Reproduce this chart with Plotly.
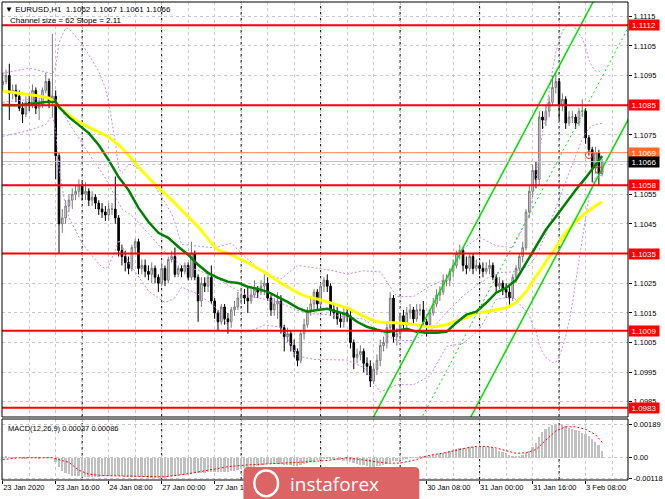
import plotly.graph_objects as go

# ---------------- data ----------------
bar_index = list(range(182))

opens = [1.1092,1.1093,1.1095,1.1089,1.1090,1.1088,1.1084,1.1082,1.1086,1.1085,
         1.1090,1.1084,1.1085,1.1090,1.1093,1.1086,1.1088,1.1068,1.1045,1.1047,
         1.1051,1.1053,1.1055,1.1056,1.1058,1.1055,1.1056,1.1053,1.1054,1.1052,
         1.1050,1.1049,1.1048,1.1050,1.1050,1.1047,1.1036,1.1034,1.1032,1.1030,
         1.1037,1.1039,1.1030,1.1031,1.1029,1.1028,1.1030,1.1027,1.1025,1.1030,
         1.1026,1.1033,1.1034,1.1028,1.1030,1.1029,1.1031,1.1027,1.1035,1.1027,
         1.1019,1.1025,1.1024,1.1027,1.1019,1.1015,1.1012,1.1017,1.1013,1.1012,
         1.1016,1.1017,1.1020,1.1021,1.1020,1.1019,1.1021,1.1023,1.1022,1.1024,
         1.1025,1.1020,1.1016,1.1018,1.1019,1.1010,1.1007,1.1008,1.1004,1.1002,
         1.0999,1.1008,1.1011,1.1016,1.1018,1.1022,1.1018,1.1024,1.1026,1.1024,
         1.1016,1.1015,1.1013,1.1012,1.1015,1.1014,1.1005,1.1000,1.1001,1.1002,
         1.0998,1.0997,1.0992,1.0996,1.0999,1.1004,1.1005,1.1010,1.1020,1.1007,
         1.1008,1.1014,1.1011,1.1015,1.1016,1.1013,1.1016,1.1016,1.1012,1.1011,
         1.1015,1.1018,1.1021,1.1022,1.1026,1.1026,1.1029,1.1031,1.1035,1.1036,
         1.1031,1.1030,1.1034,1.1030,1.1031,1.1030,1.1029,1.1030,1.1031,1.1027,
         1.1024,1.1025,1.1023,1.1022,1.1020,1.1027,1.1030,1.1034,1.1037,1.1049,
         1.1056,1.1063,1.1060,1.1081,1.1080,1.1083,1.1086,1.1091,1.1093,1.1085,
         1.1087,1.1079,1.1081,1.1081,1.1079,1.1083,1.1083,1.1074,1.1070,1.1064,
         1.1069,1.1062]

highs = [1.1096,1.1097,1.1099,1.1092,1.1092,1.1090,1.1086,1.1088,1.1089,1.1092,
         1.1091,1.1087,1.1091,1.1096,1.1094,1.1109,1.1090,1.1069,1.1050,1.1053,
         1.1055,1.1057,1.1058,1.1060,1.1059,1.1059,1.1057,1.1056,1.1055,1.1053,
         1.1052,1.1051,1.1052,1.1052,1.1061,1.1048,1.1038,1.1036,1.1034,1.1038,
         1.1040,1.1040,1.1033,1.1033,1.1031,1.1032,1.1031,1.1028,1.1032,1.1031,
         1.1034,1.1036,1.1037,1.1031,1.1031,1.1032,1.1032,1.1039,1.1036,1.1028,
         1.1027,1.1027,1.1029,1.1031,1.1020,1.1016,1.1018,1.1018,1.1015,1.1017,
         1.1019,1.1022,1.1023,1.1023,1.1024,1.1023,1.1026,1.1024,1.1026,1.1028,
         1.1027,1.1021,1.1020,1.1022,1.1021,1.1011,1.1010,1.1009,1.1006,1.1003,
         1.1009,1.1013,1.1017,1.1020,1.1023,1.1023,1.1025,1.1027,1.1028,1.1025,
         1.1018,1.1017,1.1015,1.1017,1.1017,1.1016,1.1006,1.1003,1.1004,1.1003,
         1.1000,1.0999,1.0998,1.1001,1.1006,1.1007,1.1012,1.1022,1.1021,1.1010,
         1.1015,1.1016,1.1017,1.1018,1.1017,1.1018,1.1018,1.1019,1.1013,1.1016,
         1.1020,1.1023,1.1024,1.1028,1.1028,1.1030,1.1033,1.1036,1.1038,1.1037,
         1.1034,1.1035,1.1035,1.1033,1.1032,1.1032,1.1032,1.1033,1.1032,1.1028,
         1.1027,1.1026,1.1025,1.1024,1.1028,1.1031,1.1035,1.1039,1.1050,1.1058,
         1.1065,1.1066,1.1083,1.1083,1.1085,1.1088,1.1095,1.1096,1.1094,1.1089,
         1.1088,1.1083,1.1083,1.1082,1.1084,1.1087,1.1084,1.1075,1.1071,1.1071,
         1.1070,1.1067]

lows = [1.1090,1.1092,1.1080,1.1087,1.1086,1.1083,1.1079,1.1081,1.1083,1.1084,
        1.1082,1.1080,1.1084,1.1089,1.1084,1.1081,1.1060,1.1035,1.1042,1.1045,
        1.1049,1.1050,1.1053,1.1054,1.1053,1.1053,1.1051,1.1051,1.1050,1.1048,
        1.1047,1.1046,1.1046,1.1048,1.1045,1.1034,1.1031,1.1029,1.1028,1.1029,
        1.1035,1.1028,1.1028,1.1027,1.1026,1.1025,1.1025,1.1022,1.1024,1.1024,
        1.1025,1.1032,1.1027,1.1027,1.1027,1.1028,1.1026,1.1026,1.1026,1.1012,
        1.1017,1.1022,1.1022,1.1018,1.1013,1.1009,1.1011,1.1011,1.1008,1.1010,
        1.1014,1.1016,1.1018,1.1018,1.1015,1.1018,1.1020,1.1020,1.1021,1.1021,
        1.1019,1.1014,1.1014,1.1013,1.1008,1.1002,1.1005,1.1002,1.1000,1.0997,
        1.0998,1.1006,1.1010,1.1014,1.1016,1.1016,1.1017,1.1022,1.1022,1.1014,
        1.1013,1.1011,1.1010,1.1010,1.1012,1.1003,1.0996,1.0998,1.0999,1.0995,
        1.0994,1.0990,1.0991,1.0994,1.0997,1.1002,1.1003,1.1009,1.1005,1.1004,
        1.1006,1.1009,1.1010,1.1013,1.1011,1.1012,1.1014,1.1011,1.1007,1.1010,
        1.1014,1.1017,1.1019,1.1021,1.1024,1.1024,1.1027,1.1030,1.1033,1.1029,
        1.1028,1.1029,1.1028,1.1029,1.1028,1.1027,1.1028,1.1028,1.1026,1.1022,
        1.1023,1.1021,1.1020,1.1017,1.1019,1.1025,1.1029,1.1032,1.1036,1.1047,
        1.1054,1.1057,1.1058,1.1077,1.1078,1.1081,1.1085,1.1089,1.1080,1.1083,
        1.1077,1.1078,1.1079,1.1077,1.1078,1.1081,1.1072,1.1068,1.1059,1.1062,
        1.1058,1.1061]

closes = [1.1093,1.1095,1.1089,1.1090,1.1088,1.1084,1.1082,1.1086,1.1085,1.1090,
          1.1084,1.1085,1.1090,1.1093,1.1086,1.1088,1.1068,1.1045,1.1047,1.1051,
          1.1053,1.1055,1.1056,1.1058,1.1055,1.1056,1.1053,1.1054,1.1052,1.1050,
          1.1049,1.1048,1.1050,1.1050,1.1047,1.1036,1.1034,1.1032,1.1030,1.1037,
          1.1039,1.1030,1.1031,1.1029,1.1028,1.1030,1.1027,1.1025,1.1030,1.1026,
          1.1033,1.1034,1.1028,1.1030,1.1029,1.1031,1.1027,1.1035,1.1027,1.1019,
          1.1025,1.1024,1.1027,1.1019,1.1015,1.1012,1.1017,1.1013,1.1012,1.1016,
          1.1017,1.1020,1.1021,1.1020,1.1019,1.1021,1.1023,1.1022,1.1024,1.1025,
          1.1020,1.1016,1.1018,1.1019,1.1010,1.1007,1.1008,1.1004,1.1002,1.0999,
          1.1008,1.1011,1.1016,1.1018,1.1022,1.1018,1.1024,1.1026,1.1024,1.1016,
          1.1015,1.1013,1.1012,1.1015,1.1014,1.1005,1.1000,1.1001,1.1002,1.0998,
          1.0997,1.0992,1.0996,1.0999,1.1004,1.1005,1.1010,1.1020,1.1007,1.1008,
          1.1014,1.1011,1.1015,1.1016,1.1013,1.1016,1.1016,1.1012,1.1011,1.1015,
          1.1018,1.1021,1.1022,1.1026,1.1026,1.1029,1.1031,1.1035,1.1036,1.1031,
          1.1030,1.1034,1.1030,1.1031,1.1030,1.1029,1.1030,1.1031,1.1027,1.1024,
          1.1025,1.1023,1.1022,1.1020,1.1027,1.1030,1.1034,1.1037,1.1049,1.1056,
          1.1063,1.1060,1.1081,1.1080,1.1083,1.1086,1.1091,1.1093,1.1085,1.1087,
          1.1079,1.1081,1.1081,1.1079,1.1083,1.1083,1.1074,1.1070,1.1064,1.1069,
          1.1062,1.1066]

ma_green_bars = [0,5,13,16,17,20,23,26,29,32,35,38,41,44,47,50,53,56,59,62,65,68,71,74,77,80,
                 83,86,89,92,95,98,101,104,107,110,113,116,119,122,125,128,131,134,137,140,
                 143,146,149,152,155,158,161,164,167,170,173,176,179,181]
ma_green = [1.10851,1.10850,1.10861,1.10861,1.10844,1.10810,1.10783,1.10756,1.10716,1.10665,
            1.10608,1.10564,1.10504,1.10457,1.10420,1.10403,1.10373,1.10346,1.10312,1.10285,
            1.10268,1.10255,1.10251,1.10238,1.10231,1.10221,1.10204,1.10187,1.10167,1.10154,
            1.10160,1.10164,1.10154,1.10144,1.10120,1.10103,1.10093,1.10086,1.10090,1.10096,
            1.10086,1.10083,1.10083,1.10086,1.10117,1.10144,1.10154,1.10184,1.10218,1.10234,
            1.10261,1.10319,1.10373,1.10430,1.10474,1.10521,1.10564,1.10605,1.10649,1.10679]

ma_yellow_bars = [0,5,11,14,17,20,23,26,29,32,35,38,41,44,47,51,54,59,63,65,69,74,79,84,89,92,
                  95,98,101,104,107,110,113,116,119,122,125,128,131,134,137,140,143,146,149,
                  152,155,158,161,164,167,170,173,176,179,181]
ma_yellow = [1.10898,1.10891,1.10881,1.10874,1.10844,1.10817,1.10793,1.10777,1.10760,1.10743,
             1.10716,1.10682,1.10642,1.10608,1.10571,1.10531,1.10497,1.10440,1.10386,1.10362,
             1.10346,1.10319,1.10288,1.10251,1.10218,1.10204,1.10197,1.10187,1.10177,1.10167,
             1.10150,1.10133,1.10120,1.10117,1.10117,1.10113,1.10110,1.10103,1.10103,1.10110,
             1.10123,1.10133,1.10150,1.10154,1.10160,1.10167,1.10184,1.10221,1.10272,1.10322,
             1.10373,1.10420,1.10457,1.10487,1.10511,1.10524]

# Bollinger bands (violet dotted), sampled
bb_bars = [0,8,13,15,16,17,18,19,20,24,29,30,31,32,33,34,35,36,37,38,39,44,49,50,51,52,53,54,
           59,64,69,74,79,84,89,94,99,104,109,114,119,124,129,134,139,144,149,154,159,
           160,161,162,163,164,165,166,167,168,169,170,171,172,173,174,175,176,177,178,179,180,181]
bb_upper = [1.10958,1.10975,1.10962,1.10955,1.10978,1.11061,1.11087,1.11110,1.11108,
            1.11057,1.10964,1.10939,1.10908,1.10859,1.10788,1.10726,1.10638,1.10620,1.10635,1.10650,1.10650,
            1.10611,1.10523,1.10503,1.10484,1.10455,1.10418,1.10381,
            1.10375,1.10369,1.10385,1.10331,1.10283,1.10264,1.10310,1.10301,1.10294,1.10281,1.10292,
            1.10288,1.10205,1.10205,1.10240,1.10265,1.10367,1.10405,1.10376,1.10370,1.10477,
            1.10544,1.10587,1.10686,1.10761,1.10831,1.10897,1.10966,1.11029,1.11066,1.11099,1.11114,
            1.11123,1.11123,1.11107,1.11095,1.11076,1.11044,1.11002,1.10980,1.10965,1.10966,1.10958]
bb_middle = [1.10860,1.10870,1.10875,1.10885,1.10870,1.10849,1.10828,1.10810,1.10790,
             1.10721,1.10640,1.10622,1.10604,1.10584,1.10562,1.10543,1.10517,1.10500,1.10493,1.10485,1.10478,
             1.10418,1.10354,1.10346,1.10339,1.10328,1.10318,1.10309,
             1.10294,1.10271,1.10237,1.10208,1.10196,1.10183,1.10158,1.10147,1.10143,1.10136,1.10129,
             1.10086,1.10057,1.10057,1.10089,1.10151,1.10207,1.10250,1.10286,1.10288,1.10310,
             1.10326,1.10339,1.10365,1.10389,1.10416,1.10444,1.10475,1.10506,1.10535,1.10566,1.10593,
             1.10622,1.10652,1.10681,1.10709,1.10736,1.10756,1.10772,1.10780,1.10786,1.10786,1.10789]
bb_lower = [1.10745,1.10765,1.10785,1.10815,1.10762,1.10636,1.10569,1.10509,1.10471,
            1.10384,1.10315,1.10305,1.10299,1.10308,1.10336,1.10359,1.10395,1.10379,1.10351,1.10319,1.10305,
            1.10224,1.10185,1.10189,1.10194,1.10201,1.10218,1.10237,
            1.10213,1.10172,1.10088,1.10085,1.10109,1.10102,1.10005,1.09993,1.09992,1.09991,1.09966,
            1.09883,1.09908,1.09908,1.09937,1.10037,1.10047,1.10095,1.10195,1.10205,1.10143,
            1.10108,1.10091,1.10043,1.10017,1.10000,1.09991,1.09983,1.09983,1.10003,1.10033,1.10072,
            1.10121,1.10180,1.10255,1.10323,1.10395,1.10468,1.10542,1.10579,1.10607,1.10605,1.10619]

# equidistant channel (two anchor bars each)
channel_bars = [100, 189]
channel_top = [1.09547, 1.11425]
channel_mid = [1.09237, 1.11115]
channel_bot = [1.08927, 1.10805]

# horizontal levels
level_prices = [1.1112, 1.1085, 1.1058, 1.1035, 1.1009, 1.0983]
order_price = 1.1069
bid_price = 1.1066

# marker circles
mark_bars = [177, 180]
mark_prices = [1.10682, 1.10631]

# MACD
macd_hist = [0.00003,0.00005,0.00004,0.00003,0.00002,0.00000,-0.00002,-0.00002,-0.00001,0.00000,
             -0.00001,-0.00002,0.00000,0.00002,0.00001,0.00002,-0.00026,-0.00054,-0.00072,-0.00085,
             -0.00094,-0.00100,-0.00104,-0.00105,-0.00106,-0.00106,-0.00106,-0.00106,-0.00106,-0.00106,
             -0.00105,-0.00104,-0.00103,-0.00101,-0.00100,-0.00103,-0.00105,-0.00107,-0.00108,-0.00107,
             -0.00106,-0.00108,-0.00109,-0.00110,-0.00111,-0.00111,-0.00112,-0.00113,-0.00112,-0.00111,
             -0.00108,-0.00105,-0.00103,-0.00101,-0.00099,-0.00096,-0.00094,-0.00089,-0.00087,-0.00087,
             -0.00085,-0.00083,-0.00080,-0.00080,-0.00081,-0.00082,-0.00080,-0.00079,-0.00078,-0.00075,
             -0.00072,-0.00068,-0.00064,-0.00060,-0.00057,-0.00054,-0.00050,-0.00047,-0.00043,-0.00039,
             -0.00037,-0.00037,-0.00035,-0.00033,-0.00036,-0.00039,-0.00040,-0.00042,-0.00044,-0.00046,
             -0.00042,-0.00037,-0.00031,-0.00025,-0.00018,-0.00015,-0.00010,-0.00005,-0.00003,-0.00006,
             -0.00009,-0.00012,-0.00015,-0.00016,-0.00017,-0.00024,-0.00031,-0.00036,-0.00039,-0.00043,
             -0.00046,-0.00051,-0.00051,-0.00049,-0.00045,-0.00041,-0.00034,-0.00022,-0.00020,-0.00018,
             -0.00012,-0.00010,-0.00005,-0.00001,0.00001,0.00004,0.00006,0.00006,0.00006,0.00009,
             0.00013,0.00018,0.00022,0.00028,0.00032,0.00037,0.00042,0.00048,0.00053,0.00055,
             0.00057,0.00060,0.00061,0.00062,0.00062,0.00061,0.00060,0.00058,0.00055,0.00050,
             0.00040,0.00032,0.00025,0.00017,0.00012,0.00010,0.00012,0.00018,0.00025,0.00038,
             0.00060,0.00085,0.00115,0.00145,0.00162,0.00175,0.00184,0.00189,0.00187,0.00183,
             0.00177,0.00170,0.00163,0.00155,0.00148,0.00140,0.00132,0.00120,0.00105,0.00090,
             0.00070,0.00037]
signal_bars = [0,5,15,17,20,23,26,30,40,48,50,56,62,68,74,80,90,98,104,110,116,120,125,128,134,
               140,143,146,149,152,155,158,161,164,167,170,173,176,179,181]
signal_vals = [-0.00010,0.00000,0.00000,-0.00010,-0.00026,-0.00070,-0.00092,-0.00100,-0.00105,
               -0.00107,-0.00105,-0.00090,-0.00070,-0.00050,-0.00040,-0.00035,-0.00025,-0.00015,
               0.00000,-0.00015,-0.00030,-0.00030,-0.00010,0.00010,0.00030,0.00055,0.00064,0.00064,
               0.00055,0.00040,0.00025,0.00028,0.00046,0.00100,0.00150,0.00174,0.00174,0.00160,
               0.00130,0.00086]

# axis ticks (labels hidden behind the price boxes / watermark are left blank)
price_ticks = [1.0985,1.0995,1.1005,1.1015,1.1025,1.1035,1.1045,1.1055,1.1065,1.1075,1.1085,
               1.1095,1.1105,1.1115]
price_tick_text = ["1.0985","1.0995","1.1005","1.1015","1.1025","","1.1045","1.1055",
                   "1.1065","1.1075","","1.1095","1.1105","1.1115"]
macd_ticks = [-0.00118, 0.0, 0.00189]
macd_tick_text = ["-0.00118", "0.00", "0.00189"]
x_tick_bars = [0,16,32,48,64,80,96,112,128,144,160,176]
x_tick_labels = ["23 Jan 2020","23 Jan 16:00","24 Jan 08:00","27 Jan 00:00","27 Jan 16:00",
                 "","","","30 Jan 08:00","31 Jan 00:00","31 Jan 16:00","3 Feb 08:00"]
day_separator_bars = [24,48,72,96,120,144,168]

# ---------------- figure ----------------
FONT = "Liberation Sans, Arial, sans-serif"
VIOLET = "#c58af0"
fig = go.Figure()

fig.add_trace(go.Candlestick(
    x=bar_index, open=opens, high=highs, low=lows, close=closes,
    increasing=dict(line=dict(color="#7a7a7a", width=1), fillcolor="#e6e6e6"),
    decreasing=dict(line=dict(color="#000000", width=1), fillcolor="#000000"),
    whiskerwidth=0, hoverinfo="skip", showlegend=False, xaxis="x", yaxis="y"))

for band in [bb_upper, bb_middle, bb_lower]:
    fig.add_trace(go.Scatter(x=bb_bars, y=band, mode="lines", line=dict(color=VIOLET, width=1, dash="2px,2px"),
                             hoverinfo="skip", xaxis="x", yaxis="y"))

fig.add_trace(go.Scatter(x=ma_yellow_bars, y=ma_yellow, mode="lines", line=dict(color="#ffff00", width=3),
                         hoverinfo="skip", xaxis="x", yaxis="y"))
fig.add_trace(go.Scatter(x=ma_green_bars, y=ma_green, mode="lines", line=dict(color="#008000", width=2.5),
                         hoverinfo="skip", xaxis="x", yaxis="y"))

fig.add_trace(go.Scatter(x=channel_bars, y=channel_top, mode="lines", line=dict(color="#00e000", width=1.5),
                         hoverinfo="skip", xaxis="x", yaxis="y"))
fig.add_trace(go.Scatter(x=channel_bars, y=channel_mid, mode="lines",
                         line=dict(color="#00e000", width=1, dash="2px,3px"),
                         hoverinfo="skip", xaxis="x", yaxis="y"))
fig.add_trace(go.Scatter(x=channel_bars, y=channel_bot, mode="lines", line=dict(color="#00e000", width=1.5),
                         hoverinfo="skip", xaxis="x", yaxis="y"))

fig.add_trace(go.Scatter(x=mark_bars, y=mark_prices, mode="markers",
                         marker=dict(symbol="circle-open", size=7, color="#ff3030", line=dict(width=1)),
                         hoverinfo="skip", xaxis="x", yaxis="y"))

fig.add_trace(go.Bar(x=bar_index, y=macd_hist, marker=dict(color="#c0c0c0", line=dict(width=0)),
                     width=0.55, hoverinfo="skip", xaxis="x", yaxis="y2"))
fig.add_trace(go.Scatter(x=signal_bars, y=signal_vals, mode="lines",
                         line=dict(color="#ff0000", width=1, dash="2px,2px"),
                         hoverinfo="skip", xaxis="x", yaxis="y2"))

PRICE_DOM = [0.1318, 1.0]
MACD_DOM = [0.0, 0.1276]

shapes = []
for b in day_separator_bars:
    shapes.append(dict(type="line", xref="x", yref="paper", x0=b, x1=b, y0=PRICE_DOM[0], y1=1,
                       line=dict(color="#000000", width=1, dash="3px,3px"), layer="below"))
    shapes.append(dict(type="line", xref="x", yref="paper", x0=b, x1=b, y0=0, y1=MACD_DOM[1],
                       line=dict(color="#000000", width=1, dash="3px,3px"), layer="below"))
shapes.append(dict(type="line", xref="paper", yref="y", x0=0, x1=1, y0=bid_price, y1=bid_price,
                   line=dict(color="#c0c0c0", width=1), layer="above"))
shapes.append(dict(type="line", xref="paper", yref="y", x0=0, x1=1, y0=order_price, y1=order_price,
                   line=dict(color="#ff7f50", width=1), layer="above"))
for lv in level_prices:
    shapes.append(dict(type="line", xref="paper", yref="y", x0=0, x1=1, y0=lv, y1=lv,
                       line=dict(color="#ff0000", width=2), layer="above"))
# panel frames
shapes.append(dict(type="rect", xref="paper", yref="paper", x0=0, x1=1, y0=PRICE_DOM[0], y1=PRICE_DOM[1],
                   line=dict(color="#000000", width=1), layer="above"))
shapes.append(dict(type="rect", xref="paper", yref="paper", x0=0, x1=1, y0=MACD_DOM[0], y1=MACD_DOM[1],
                   line=dict(color="#000000", width=1), layer="above"))
# watermark box with rounded top corners
wx0, wx1, wy0, wy1 = 0.3857, 0.6667, -0.0397, 0.0272
rx, ry = 0.0080, 0.0105
logo_path = (f"M {wx0},{wy0} L {wx0},{wy1 - ry} Q {wx0},{wy1} {wx0 + rx},{wy1} "
             f"L {wx1 - rx},{wy1} Q {wx1},{wy1} {wx1},{wy1 - ry} L {wx1},{wy0} Z")
shapes.append(dict(type="path", xref="paper", yref="paper", path=logo_path,
                   line=dict(width=0), fillcolor="#dc6464", layer="above"))
shapes.append(dict(type="circle", xref="paper", yref="paper", x0=0.4030, x1=0.4410, y0=-0.034, y1=0.020,
                   line=dict(color="white", width=2.5), layer="above"))

annotations = []
for lv in level_prices:
    annotations.append(dict(xref="paper", yref="y", x=1, y=lv, xanchor="left", yanchor="middle",
                            text=f"{lv:.4f}", showarrow=False, bgcolor="#ff0000", width=30, height=10,
                            font=dict(family=FONT, size=8, color="white"), borderpad=0))
annotations.append(dict(xref="paper", yref="y", x=1, y=order_price, xanchor="left", yanchor="middle",
                        text=f"{order_price:.4f}", showarrow=False, bgcolor="#ff6a2a", width=30, height=10,
                        font=dict(family=FONT, size=8, color="white"), borderpad=0))
annotations.append(dict(xref="paper", yref="y", x=1, y=bid_price, xanchor="left", yanchor="middle",
                        text=f"{bid_price:.4f}", showarrow=False, bgcolor="#000000", width=30, height=10,
                        font=dict(family=FONT, size=8, color="white"), borderpad=0))
annotations.append(dict(xref="paper", yref="paper", x=0, y=1, xanchor="left", yanchor="top", xshift=1, yshift=-1,
                        text="\u25bc EURUSD,H1  1.1062 1.1067 1.1061 1.1066", showarrow=False,
                        font=dict(family=FONT, size=8, color="black")))
annotations.append(dict(xref="paper", yref="paper", x=0, y=1, xanchor="left", yanchor="top", xshift=6, yshift=-12,
                        text="Channel size = 62 Slope = 2.11", showarrow=False,
                        font=dict(family=FONT, size=8, color="black")))
annotations.append(dict(xref="paper", yref="paper", x=0, y=MACD_DOM[1], xanchor="left", yanchor="top",
                        xshift=4, yshift=-3, text="MACD(12,26,9) 0.00037 0.00086", showarrow=False,
                        font=dict(family=FONT, size=7.5, color="black")))
annotations.append(dict(xref="paper", yref="paper", x=0.457, y=-0.0084, xanchor="left", yanchor="middle",
                        text="instaforex", showarrow=False,
                        font=dict(family="Open Sans, Arial", size=19, color="white")))

fig.update_layout(
    width=665, height=499, margin=dict(l=2, r=33, t=2, b=19),
    paper_bgcolor="white", plot_bgcolor="white", showlegend=False,
    font=dict(family=FONT, size=8, color="black"),
    xaxis=dict(range=[-0.21, 188.8], anchor="y2", tickmode="array", tickvals=x_tick_bars,
               ticktext=x_tick_labels, ticks="outside", ticklen=3, tickcolor="black",
               ticklabelposition="outside right", tickfont=dict(family=FONT, size=7.5),
               showgrid=True, gridcolor="#c8c8c8", griddash="3px,3px", gridwidth=1,
               minor=dict(dtick=8, tick0=0, showgrid=True, gridcolor="#c8c8c8", griddash="3px,3px"),
               rangeslider=dict(visible=False), zeroline=False, showline=False),
    yaxis=dict(domain=PRICE_DOM, range=[1.09799, 1.11198], side="right", anchor="x",
               tickmode="array", tickvals=price_ticks, ticktext=price_tick_text,
               ticks="outside", ticklen=3, tickcolor="black", tickfont=dict(family=FONT, size=7.5),
               showgrid=True, gridcolor="#c8c8c8", griddash="3px,3px", gridwidth=1,
               zeroline=False, showline=False),
    yaxis2=dict(domain=MACD_DOM, range=[-0.00125, 0.00218], side="right", anchor="x",
                tickmode="array", tickvals=macd_ticks, ticktext=macd_tick_text,
                ticks="outside", ticklen=3, tickcolor="black", tickfont=dict(family=FONT, size=7.5),
                showgrid=True, gridcolor="#c8c8c8", griddash="3px,3px", gridwidth=1,
                zeroline=False, showline=False),
    shapes=shapes, annotations=annotations, bargap=0,
)

fig.write_html("out.html", config={"displayModeBar": False},
               post_script="document.body.style.margin='0px';document.body.style.overflow='hidden';")
